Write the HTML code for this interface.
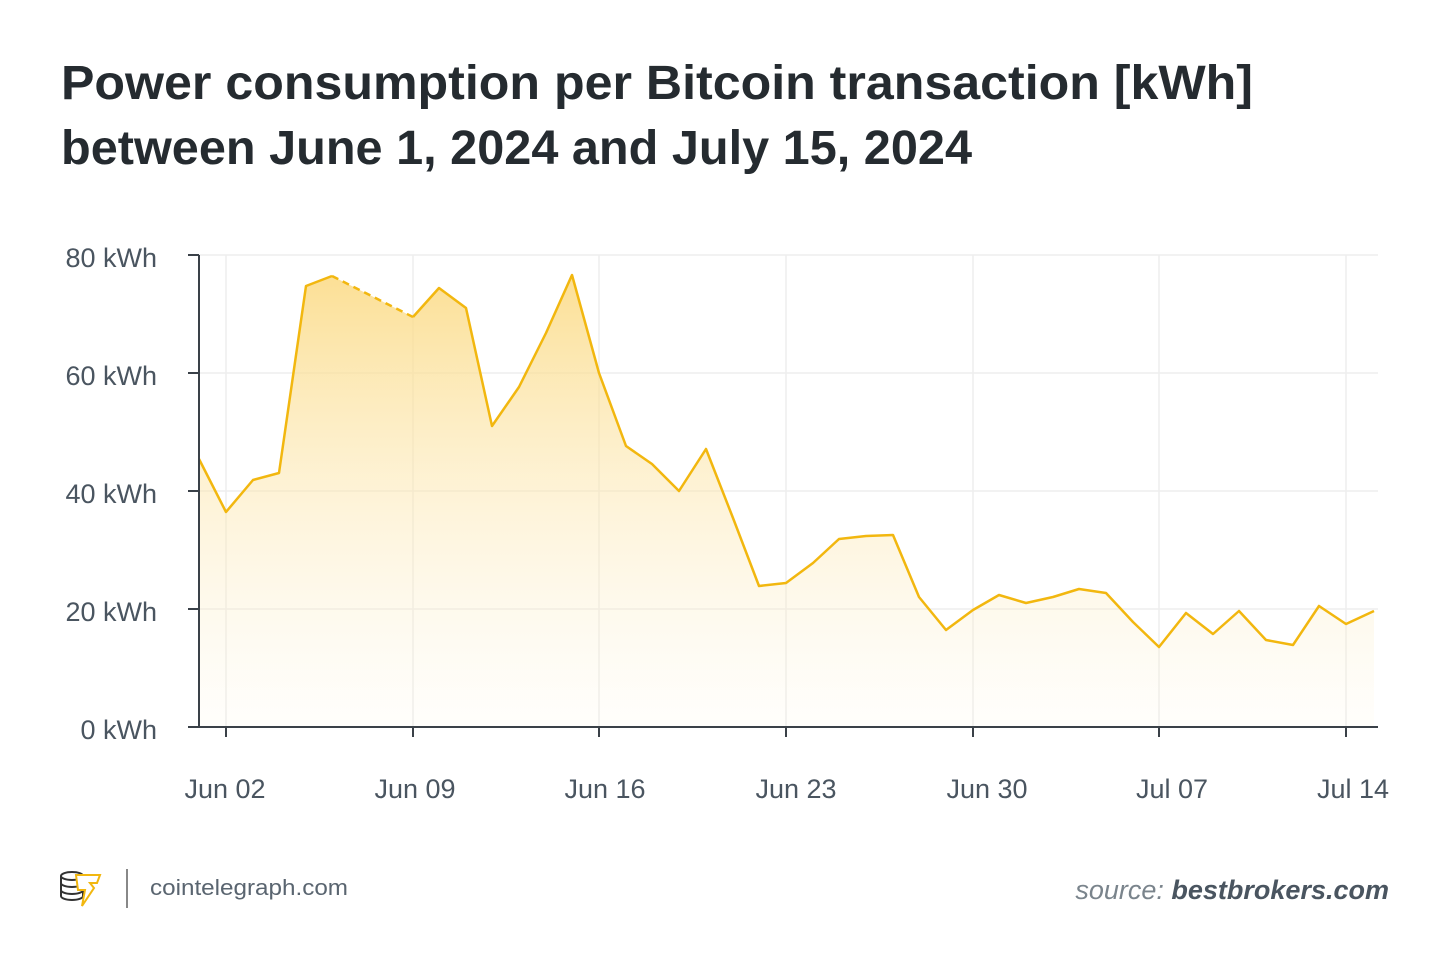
<!DOCTYPE html>
<html><head><meta charset="utf-8"><style>
body{margin:0;background:#fff;width:1450px;height:969px;overflow:hidden;font-family:"Liberation Sans",sans-serif}
</style></head><body>
<svg width="1450" height="969" viewBox="0 0 1450 969" xmlns="http://www.w3.org/2000/svg">
<defs><linearGradient id="g" gradientUnits="userSpaceOnUse" x1="0" y1="270" x2="0" y2="727">
<stop offset="0" stop-color="#fbd980" stop-opacity="0.85"/><stop offset="1" stop-color="#fdf3d8" stop-opacity="0.1"/></linearGradient></defs>
<text x="61" y="99" font-size="48" font-weight="bold" fill="#252b30" textLength="1192" lengthAdjust="spacingAndGlyphs">Power consumption per Bitcoin transaction [kWh]</text>
<text x="61" y="164" font-size="48" font-weight="bold" fill="#252b30" textLength="911" lengthAdjust="spacingAndGlyphs">between June 1, 2024 and July 15, 2024</text>
<g stroke="#eeeeee" stroke-width="1.5">
<line x1="199" y1="255" x2="1378" y2="255"/><line x1="199" y1="373" x2="1378" y2="373"/><line x1="199" y1="491" x2="1378" y2="491"/><line x1="199" y1="609" x2="1378" y2="609"/>
<line x1="226" y1="255" x2="226" y2="727"/><line x1="413" y1="255" x2="413" y2="727"/><line x1="599" y1="255" x2="599" y2="727"/><line x1="786" y1="255" x2="786" y2="727"/><line x1="973" y1="255" x2="973" y2="727"/><line x1="1159" y1="255" x2="1159" y2="727"/><line x1="1346" y1="255" x2="1346" y2="727"/>
</g>
<path d="M199,459 L226,512 253,480 279,473 306,286 332,276 413,317 439,288 466,308 492,426 519,387 546,333 572,275 599,373 626,446 652,464 679,491 706,449 733,518 759,586 786,583 813,563 839,539 866,536 893,535 919,597 946,630 973,610 999,595 1026,603 1053,597 1079,589 1106,593 1133,622 1159,647 1186,613 1213,634 1239,611 1266,640 1293,645 1319,606 1346,624 1374,611 L1374,727 L199,727 Z" fill="url(#g)"/>
<g fill="none" stroke="#f2b70f" stroke-width="2.5" stroke-linejoin="round">
<polyline points="199,459 226,512 253,480 279,473 306,286 332,276"/>
<polyline points="332,276 413,317" stroke-dasharray="7,5"/>
<polyline points="413,317 439,288 466,308 492,426 519,387 546,333 572,275 599,373 626,446 652,464 679,491 706,449 733,518 759,586 786,583 813,563 839,539 866,536 893,535 919,597 946,630 973,610 999,595 1026,603 1053,597 1079,589 1106,593 1133,622 1159,647 1186,613 1213,634 1239,611 1266,640 1293,645 1319,606 1346,624 1374,611"/>
</g>
<g stroke="#3a4148" stroke-width="2">
<line x1="199" y1="255" x2="199" y2="727"/><line x1="188" y1="727" x2="1378" y2="727"/>
<line x1="188" y1="255" x2="199" y2="255"/><line x1="188" y1="373" x2="199" y2="373"/><line x1="188" y1="491" x2="199" y2="491"/><line x1="188" y1="609" x2="199" y2="609"/>
<line x1="226" y1="727" x2="226" y2="737"/><line x1="413" y1="727" x2="413" y2="737"/><line x1="599" y1="727" x2="599" y2="737"/><line x1="786" y1="727" x2="786" y2="737"/><line x1="973" y1="727" x2="973" y2="737"/><line x1="1159" y1="727" x2="1159" y2="737"/><line x1="1346" y1="727" x2="1346" y2="737"/>
</g>
<g font-size="27" fill="#4a5560" text-anchor="end">
<text x="157" y="267">80 kWh</text><text x="157" y="385">60 kWh</text><text x="157" y="503">40 kWh</text><text x="157" y="621">20 kWh</text><text x="157" y="739">0 kWh</text>
</g>
<g font-size="27" fill="#4a5560" text-anchor="middle">
<text x="225" y="798">Jun 02</text><text x="415" y="798">Jun 09</text><text x="605" y="798">Jun 16</text><text x="796" y="798">Jun 23</text><text x="987" y="798">Jun 30</text><text x="1172" y="798">Jul 07</text><text x="1353" y="798">Jul 14</text>
</g>
<g fill="none" stroke="#333" stroke-width="2">
<ellipse cx="72" cy="876" rx="11" ry="4"/><path d="M61,876v20a11,4 0 0 0 22,0v-20"/><path d="M61,883a11,4 0 0 0 22,0M61,890a11,4 0 0 0 22,0"/>
</g>
<path d="M76,875 L100,875 L97,883 L90,883 L94,888 L82,906 L85,890 L78,890 Z" fill="#fff" stroke="#f2b70f" stroke-width="2"/>
<line x1="127" y1="869" x2="127" y2="908" stroke="#888" stroke-width="2"/>
<text x="150" y="895" font-size="22" fill="#5a6570" textLength="198" lengthAdjust="spacingAndGlyphs">cointelegraph.com</text>
<text x="1389" y="899" font-size="27" text-anchor="end" fill="#7a848c"><tspan font-style="italic">source: </tspan><tspan font-weight="bold" font-style="italic" fill="#4a5560">bestbrokers.com</tspan></text>
</svg>
</body></html>
